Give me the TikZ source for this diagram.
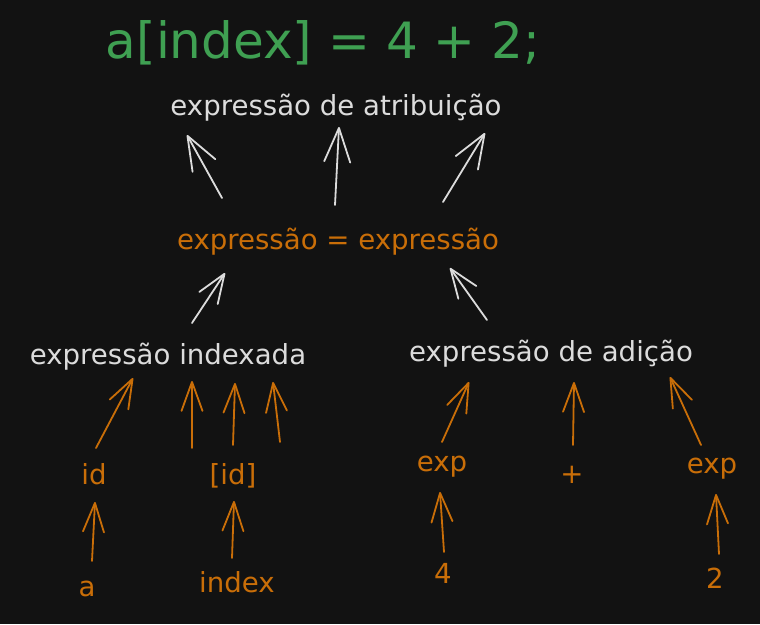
\documentclass[tikz,border=0pt]{standalone}
\usepackage{fontspec}
\setmainfont{DejaVu Sans}
\usetikzlibrary{arrows.meta}
\definecolor{bg}{HTML}{121212}
\definecolor{chalk}{HTML}{DCDCDC}
\definecolor{amber}{HTML}{C96E08}
\definecolor{leaf}{HTML}{3FA052}
\tikzset{
  lbl/.style={anchor=base, inner sep=0pt, font=\fontsize{27.6}{32}\selectfont},
  wtxt/.style={lbl, text=chalk},
  otxt/.style={lbl, text=amber},
  wline/.style={draw=chalk, line width=1.8pt, line cap=round, -{Straight Barb[length=29pt,width=22pt,round]}},
  wlong/.style={wline, -{Straight Barb[length=34pt,width=26pt,round]}},
  oline/.style={draw=amber, line width=1.8pt, line cap=round, -{Straight Barb[length=29pt,width=21pt,round]}}
}
\begin{document}
\begin{tikzpicture}[x=1pt,y=-1pt]

\fill[bg] (0,0) rectangle (760,624);
\useasboundingbox (0,0) rectangle (760,624);

\node[anchor=base, inner sep=0pt, text=leaf, font=\fontsize{50}{58}\selectfont] (title) at (323,58) {a[index] = 4 + 2;};

\node[wtxt] (atrib) at (336,115) {expressão de atribuição};
\node[otxt] (eqn) at (338,249) {expressão = expressão};
\node[wtxt] (idx) at (168,364) {expressão indexada};
\node[wtxt] (add) at (551,361) {expressão de adição};

\node[otxt] (id) at (94,484) {id};
\node[otxt] (idb) at (233,484) {[id]};
\node[otxt] (a) at (87,596) {a};
\node[otxt] (index) at (237,592) {index};

\node[otxt] (expl) at (442,471) {exp};
\node[otxt] (plus) at (572,483) {+};
\node[otxt] (expr) at (712,473) {exp};
\node[otxt] (four) at (443,583) {4};
\node[otxt] (two) at (715,588) {2};

\draw[wlong] ([shift={(-116,-51)}]eqn.base) -- ([shift={(-149,20)}]atrib.base);
\draw[wlong] ([shift={(-3,-44)}]eqn.base) -- ([shift={(3,12)}]atrib.base);
\draw[wlong] ([shift={(105,-47)}]eqn.base) -- ([shift={(149,18)}]atrib.base);

\draw[wline] ([shift={(24,-41)}]idx.base) -- ([shift={(-113,24)}]eqn.base);
\draw[wline] ([shift={(-64,-41)}]add.base) -- ([shift={(112,19)}]eqn.base);

\draw[oline] ([shift={(2,-36)}]id.base) -- ([shift={(-35,14)}]idx.base);
\draw[oline] ([shift={(-41,-36)}]idb.base) -- ([shift={(24,17)}]idx.base);
\draw[oline] ([shift={(0,-39)}]idb.base) -- ([shift={(67,19)}]idx.base);
\draw[oline] ([shift={(47,-42)}]idb.base) -- ([shift={(105,18)}]idx.base);

\draw[oline] ([shift={(0,-29)}]expl.base) -- ([shift={(-82,21)}]add.base);
\draw[oline] ([shift={(1,-38)}]plus.base) -- ([shift={(23,21)}]add.base);
\draw[oline] ([shift={(-11,-28)}]expr.base) -- ([shift={(119,16)}]add.base);

\draw[oline] ([shift={(5,-35)}]a.base) -- ([shift={(1,18)}]id.base);
\draw[oline] ([shift={(-5,-34)}]index.base) -- ([shift={(1,17)}]idb.base);
\draw[oline] ([shift={(1,-31)}]four.base) -- ([shift={(-2,21)}]expl.base);
\draw[oline] ([shift={(4,-34)}]two.base) -- ([shift={(4,21)}]expr.base);

\end{tikzpicture}
\end{document}
